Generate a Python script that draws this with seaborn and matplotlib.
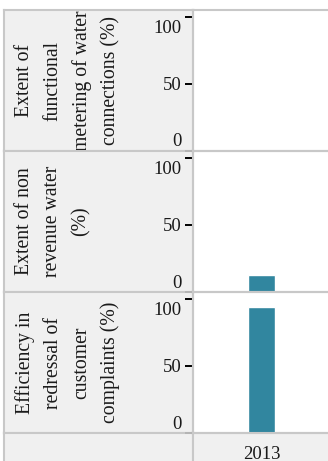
import matplotlib
matplotlib.use("Agg")
import matplotlib.pyplot as plt
import matplotlib.transforms as mtransforms
import seaborn as sns
import pandas as pd
import numpy as np

# --- dados ---
indicadores = [
    "Extent of\nfunctional\nmetering of water\nconnections (%)",
    "Extent of non\nrevenue water\n(%)",
    "Efficiency in\nredressal of\ncustomer\ncomplaints (%)",
]
anos = ["2013"]
valores = [np.nan, 13, 94]

COR_BARRA = "#31869f"
COR_CINZA = "#f0f0f0"
COR_BORDA = "#c8c8c8"
COR_TEXTO = "#1a1a1a"
FONTE = "Liberation Serif"

sns.set_theme(style="white")
plt.rcParams["font.family"] = [FONTE, "DejaVu Serif"]

df = pd.DataFrame({"indicador": indicadores,
                   "ano": anos * len(indicadores),
                   "valor": valores})

W, H = 328, 461
fig = plt.figure(figsize=(W / 100, H / 100), dpi=100)


def caixa(x0, y0, x1, y1):
    # converte pixels (origem no topo) para fração da figura
    return [x0 / W, 1 - y1 / H, (x1 - x0) / W, (y1 - y0) / H]


def estilo_celula(ax):
    ax.set_facecolor(COR_CINZA)
    ax.set_xticks([])
    ax.set_yticks([])
    for s in ax.spines.values():
        s.set_color(COR_BORDA)
        s.set_linewidth(1.5)


linhas = [(10, 151), (151, 292), (292, 433)]
X_ROT, X_DIV, X_FIM = 4, 193, 330

# células cinzas dos rótulos (desenhadas primeiro)
for (y0, y1), nome in zip(linhas, indicadores):
    axl = fig.add_axes(caixa(X_ROT, y0, X_DIV, y1))
    estilo_celula(axl)
    axl.text(11 / (X_DIV - X_ROT), 0.5, nome, transform=axl.transAxes,
             rotation=90, ha="left", va="center", multialignment="center",
             fontsize=14.2, linespacing=1.65, color=COR_TEXTO, clip_on=True)

# faixa inferior
ax_b1 = fig.add_axes(caixa(X_ROT, 433, X_DIV, H + 2))
estilo_celula(ax_b1)
ax_b2 = fig.add_axes(caixa(X_DIV, 433, X_FIM, H + 2))
estilo_celula(ax_b2)

desloc_topo = mtransforms.ScaledTranslation(0, -9.5 / 100, fig.dpi_scale_trans)
desloc_base = mtransforms.ScaledTranslation(0, 11 / 100, fig.dpi_scale_trans)

for i, ((y0, y1), nome) in enumerate(zip(linhas, indicadores)):
    ax = fig.add_axes(caixa(X_DIV, y0, X_FIM, y1))
    ax.patch.set_alpha(0)
    sub = df[df["indicador"] == nome].dropna(subset=["valor"])
    if len(sub):
        sns.barplot(data=sub, x="ano", y="valor", color=COR_BARRA,
                    width=0.19, saturation=1, ax=ax)
    ax.set_xlim(-0.5, 0.5)
    ax.set_ylim(0, 105)
    ax.set_yticks([0, 50, 100])
    ax.set_yticklabels(["0", "50", "100"])
    ax.set_xlabel("")
    ax.set_ylabel("")
    ax.tick_params(axis="y", direction="out", length=6, width=1.4,
                   color="black", pad=2, labelsize=13.5, labelcolor=COR_TEXTO,
                   left=True)
    for lab in ax.get_yticklabels():
        if lab.get_text() == "100":
            lab.set_transform(lab.get_transform() + desloc_topo)
        elif lab.get_text() == "0":
            lab.set_transform(lab.get_transform() + desloc_base)
    # a marca do zero fica cinza, junto da borda
    marca_zero = ax.yaxis.get_major_ticks()[0].tick1line
    marca_zero.set_markeredgecolor("#b4b4b4")
    if i == len(linhas) - 1:
        ax.set_xticks([0])
        ax.set_xticklabels(anos)
        ax.tick_params(axis="x", length=0, pad=9, labelsize=13.5,
                       labelcolor=COR_TEXTO, bottom=True)
    else:
        ax.set_xticks([])
    for lado, s in ax.spines.items():
        s.set_color(COR_BORDA)
        s.set_linewidth(1.5)
    ax.spines["right"].set_visible(False)

fig.savefig("out.png", dpi=100)
